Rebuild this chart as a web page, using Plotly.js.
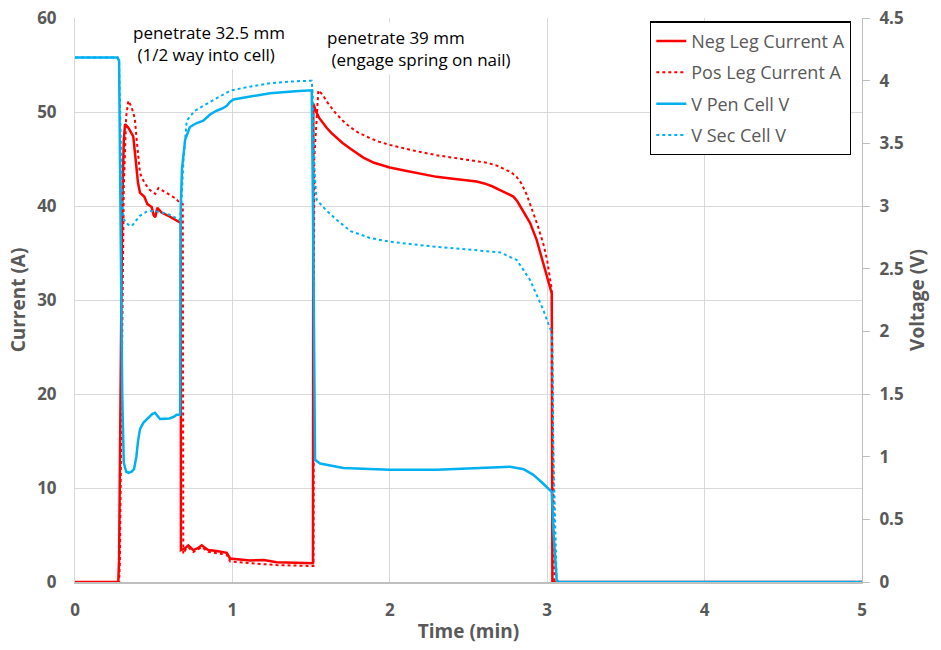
<!DOCTYPE html>
<html>
<head>
<meta charset="utf-8">
<script src="https://cdn.plot.ly/plotly-3.0.1.min.js"></script>
<style>html,body{margin:0;padding:0;background:#fff;}#chart{width:941px;height:650px;}</style>
</head>
<body>
<div id="chart"></div>
<script>
// ---- Data ----
const negTime = [0,0.275,0.28,0.29,0.30,0.31,0.318,0.34,0.37,0.385,0.40,0.413,0.44,0.46,0.487,0.50,0.51,0.523,0.55,0.6,0.64,0.667,0.672,0.673,0.7,0.72,0.752,0.78,0.805,0.83,0.847,0.9,0.964,0.985,1.05,1.112,1.2,1.281,1.4,1.504,1.512,1.514,1.53,1.55,1.575,1.6,1.63,1.662,1.7,1.75,1.79,1.832,1.9,2.0,2.1,2.2,2.298,2.4,2.5,2.552,2.6,2.65,2.7,2.75,2.785,2.81,2.83,2.86,2.891,2.933,2.975,3.0,3.029,3.033,5];
const negCurrent = [0,0,2.3,20,40,47,48.7,48.3,47.4,45,42.5,41.4,41,40.2,39.9,39,38.8,39.8,39.3,38.9,38.5,38.3,38.2,3.4,3.6,3.9,3.4,3.6,3.9,3.6,3.4,3.3,3.1,2.5,2.4,2.3,2.35,2.1,2.05,2.0,2.0,50.9,50.1,49.4,48.8,48.3,47.75,47.25,46.7,46.1,45.6,45.15,44.6,44.1,43.75,43.4,43.1,42.9,42.75,42.6,42.4,42.1,41.7,41.3,41.0,40.5,39.9,39.1,38.2,36.4,33.9,32.4,30.7,0,0];

const posTime = [0,0.28,0.285,0.295,0.31,0.325,0.339,0.36,0.38,0.395,0.413,0.44,0.47,0.49,0.51,0.53,0.56,0.6,0.64,0.667,0.685,0.688,0.7,0.72,0.752,0.805,0.847,0.964,0.985,1.112,1.281,1.504,1.515,1.52,1.546,1.575,1.6,1.65,1.7,1.747,1.8,1.87,1.93,2.0,2.15,2.298,2.45,2.55,2.616,2.68,2.72,2.77,2.806,2.84,2.87,2.9,2.94,2.975,3.0,3.029,3.045,5];
const posCurrent = [0,0,2,20,42,49.5,51.2,50.5,49.3,46.5,43.5,42.5,41.8,41.5,41.3,41.9,41.6,41.2,40.8,40.3,40.2,3.0,3.4,3.7,3.2,3.7,3.2,2.9,2.2,2.0,1.8,1.7,1.7,45,52.3,51.8,51.1,50.0,49.1,48.4,47.8,47.25,46.85,46.5,45.9,45.4,45.0,44.8,44.6,44.3,44.0,43.6,43.1,42.3,41.2,39.8,37.9,36.0,34.2,31.1,0,0];

const penTime = [0,0.27,0.28,0.29,0.30,0.31,0.325,0.34,0.36,0.375,0.39,0.40,0.413,0.434,0.46,0.49,0.508,0.52,0.54,0.6,0.63,0.646,0.668,0.672,0.68,0.70,0.73,0.77,0.815,0.858,0.9,0.94,0.964,0.985,1.006,1.05,1.1,1.239,1.4,1.504,1.512,1.52,1.525,1.557,1.705,2.0,2.3,2.573,2.764,2.85,2.912,2.97,3.029,3.04,3.06,3.07,5];
const penVoltage = [4.185,4.185,4.16,3.0,1.5,0.95,0.88,0.87,0.88,0.9,1.0,1.12,1.22,1.27,1.3,1.34,1.35,1.33,1.30,1.305,1.32,1.335,1.335,3.0,3.3,3.53,3.63,3.66,3.68,3.73,3.76,3.78,3.8,3.83,3.85,3.86,3.87,3.9,3.915,3.923,3.0,1.2,0.975,0.945,0.91,0.895,0.895,0.91,0.92,0.9,0.855,0.79,0.72,0.4,0.02,0,0];

const secTime = [0,0.27,0.28,0.29,0.30,0.31,0.32,0.34,0.36,0.38,0.41,0.455,0.5,0.55,0.6,0.667,0.675,0.69,0.71,0.76,0.815,0.9,0.985,1.1,1.239,1.4,1.504,1.51,1.52,1.535,1.6,1.662,1.75,1.874,2.0,2.25,2.5,2.7,2.806,2.891,2.975,3.029,3.04,3.06,5];
const secVoltage = [4.185,4.185,4.15,3.6,3.0,2.9,2.87,2.85,2.84,2.87,2.92,2.955,2.96,2.95,2.93,2.89,3.0,3.39,3.68,3.76,3.8,3.86,3.92,3.95,3.98,3.995,4.0,3.9,3.3,3.05,2.96,2.89,2.8,2.745,2.715,2.68,2.655,2.63,2.57,2.41,2.17,1.99,1.0,0,0];

const seriesNames = ["Neg Leg Current A","Pos Leg Current A","V Pen Cell V","V Sec Cell V"];
const noteLeft = "penetrate 32.5 mm<br> (1/2 way into cell)";
const noteRight = "penetrate 39 mm<br> (engage spring on nail)";

const RED = "#FF0000", BLUE = "#00B0F0", GRID = "#d9d9d9", TXT = "#595959";
const FONT = "Open Sans, DejaVu Sans, sans-serif";

const traces = [
  {x: negTime, y: negCurrent, name: seriesNames[0], legendgroup: "a", type: "scatter", mode: "lines",
   line: {color: RED, width: 2.5}, yaxis: "y"},
  {x: posTime, y: posCurrent, name: seriesNames[1], legendgroup: "b", type: "scatter", mode: "lines",
   line: {color: RED, width: 2, dash: "dot"}, yaxis: "y"},
  {x: penTime, y: penVoltage, name: seriesNames[2], legendgroup: "c", type: "scatter", mode: "lines",
   line: {color: BLUE, width: 2.5}, yaxis: "y2"},
  {x: secTime, y: secVoltage, name: seriesNames[3], legendgroup: "d", type: "scatter", mode: "lines",
   line: {color: BLUE, width: 2, dash: "dot"}, yaxis: "y2"}
];

const layout = {
  width: 941, height: 650,
  margin: {l: 75, r: 79, t: 18, b: 68},
  paper_bgcolor: "#fff", plot_bgcolor: "#fff",
  font: {family: FONT, color: TXT},
  showlegend: true,
  legend: {
    x: 0.986, xanchor: "right", y: 0.994, yanchor: "top",
    bgcolor: "#fff", bordercolor: "#000", borderwidth: 1.3,
    font: {family: FONT, size: 18, color: TXT},
    traceorder: "grouped", tracegroupgap: 5
  },
  xaxis: {
    range: [0, 5], dtick: 1, tick0: 0,
    showgrid: true, gridcolor: GRID, gridwidth: 1, zeroline: false,
    showline: true, linecolor: "#bfbfbf", linewidth: 2,
    ticks: "", ticklabelstandoff: 12,
    tickfont: {family: FONT, size: 17, color: TXT, weight: "bold"},
    title: {text: "Time (min)", font: {family: FONT, size: 19, color: TXT, weight: "bold"}, standoff: 4}
  },
  yaxis: {
    range: [0, 60], dtick: 10, tick0: 0,
    showgrid: true, gridcolor: GRID, gridwidth: 1, zeroline: false,
    showline: true, linecolor: GRID, linewidth: 1,
    ticks: "", ticklabelstandoff: 14,
    tickfont: {family: FONT, size: 17, color: TXT, weight: "bold"},
    title: {text: "Current (A)", font: {family: FONT, size: 19, color: TXT, weight: "bold"}, standoff: 6}
  },
  yaxis2: {
    range: [0, 4.5], dtick: 0.5, tick0: 0,
    overlaying: "y", side: "right",
    showgrid: false, zeroline: false,
    showline: true, linecolor: "#bfbfbf", linewidth: 1,
    ticks: "outside", ticklen: 7, tickcolor: "#bfbfbf", ticklabelstandoff: 6,
    tickfont: {family: FONT, size: 17, color: TXT, weight: "bold"},
    title: {text: "Voltage (V)", font: {family: FONT, size: 19, color: TXT, weight: "bold"}, standoff: 8}
  },
  annotations: [
    {text: noteLeft, xref: "x", yref: "y", x: 0.345, y: 57.3, xanchor: "left", yanchor: "middle",
     align: "left", showarrow: false, bgcolor: "#fff", borderpad: 3,
     font: {family: FONT, size: 17, color: "#000"}},
    {text: noteRight, xref: "x", yref: "y", x: 1.575, y: 56.8, xanchor: "left", yanchor: "middle",
     align: "left", showarrow: false, bgcolor: "#fff", borderpad: 3,
     font: {family: FONT, size: 17, color: "#000"}}
  ]
};

Plotly.newPlot("chart", traces, layout, {displayModeBar: false, staticPlot: true});
</script>
</body>
</html>
